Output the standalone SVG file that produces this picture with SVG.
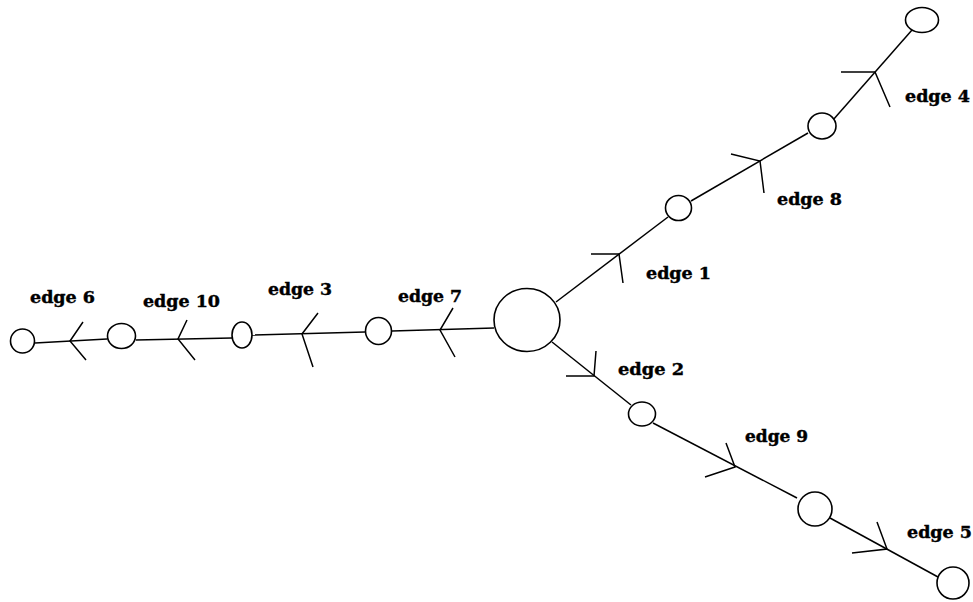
<svg xmlns="http://www.w3.org/2000/svg" width="973" height="602" viewBox="0 0 973 602">
<style>
.n{fill:#fff;stroke:#000;stroke-width:1.6}
.e{fill:none;stroke:#000;stroke-width:1.5}
.l{font-family:"DejaVu Serif","Liberation Serif",serif;font-weight:bold;font-size:16px;fill:#000;stroke:#000;stroke-width:0.4}
</style>
<rect width="973" height="602" fill="#fff"/>
<g id="connectors">
<g id="e7"><line class="e" x1="494" y1="328" x2="392" y2="331"/><polyline class="e" points="453,308 440,330 455,357"/></g>
<g id="e3"><line class="e" x1="365" y1="332" x2="252" y2="335"/><polyline class="e" points="318,313 302,334 313,367"/></g>
<g id="e10"><line class="e" x1="232" y1="338" x2="136" y2="340"/><polyline class="e" points="187,320 178,339 195,360"/></g>
<g id="e6"><line class="e" x1="107" y1="339" x2="35" y2="343"/><polyline class="e" points="83,322 70,341 86,360"/></g>
<g id="e1"><line class="e" x1="556" y1="302" x2="668" y2="217"/><polyline class="e" points="591,254 619,254 623,283"/></g>
<g id="e8"><line class="e" x1="691" y1="201" x2="808" y2="133"/><polyline class="e" points="731,154 760,161 764,193"/></g>
<g id="e4"><line class="e" x1="833" y1="120" x2="912" y2="30"/><polyline class="e" points="841,72 875,72 890,107"/></g>
<g id="e2"><line class="e" x1="552" y1="342" x2="631" y2="405"/><polyline class="e" points="566,376 594,376 596,351"/></g>
<g id="e9"><line class="e" x1="653" y1="423" x2="797" y2="498"/><polyline class="e" points="726,443 735,467 705,477"/></g>
<g id="e5"><line class="e" x1="830" y1="518" x2="938" y2="577"/><polyline class="e" points="877,522 887,549 852,553"/></g>
</g>
<g id="n0"><ellipse class="n" cx="527" cy="320" rx="33" ry="31.5"/></g>
<g id="nA"><ellipse class="n" cx="678.5" cy="208" rx="13" ry="12.5"/></g>
<g id="nB"><ellipse class="n" cx="822" cy="126" rx="14" ry="13"/></g>
<g id="nC"><ellipse class="n" cx="922" cy="20" rx="16.5" ry="12.5"/></g>
<g id="nD"><ellipse class="n" cx="642" cy="414" rx="13.5" ry="12"/></g>
<g id="nE"><ellipse class="n" cx="815" cy="509" rx="17" ry="17"/></g>
<g id="nF"><ellipse class="n" cx="953" cy="583" rx="16" ry="16"/></g>
<g id="nG"><ellipse class="n" cx="378.5" cy="331" rx="13" ry="13.5"/></g>
<g id="nH"><ellipse class="n" cx="242" cy="335" rx="10" ry="13"/></g>
<g id="nI"><ellipse class="n" cx="121.5" cy="336" rx="14" ry="12.5"/></g>
<g id="nJ"><ellipse class="n" cx="22.5" cy="341" rx="12" ry="12"/></g>
<g id="labels">
<text class="l" x="30" y="303" textLength="65" lengthAdjust="spacingAndGlyphs">edge 6</text>
<text class="l" x="143" y="307" textLength="77" lengthAdjust="spacingAndGlyphs">edge 10</text>
<text class="l" x="268" y="295" textLength="64" lengthAdjust="spacingAndGlyphs">edge 3</text>
<text class="l" x="398" y="302" textLength="64" lengthAdjust="spacingAndGlyphs">edge 7</text>
<text class="l" x="646" y="279" textLength="65" lengthAdjust="spacingAndGlyphs">edge 1</text>
<text class="l" x="777" y="205" textLength="65" lengthAdjust="spacingAndGlyphs">edge 8</text>
<text class="l" x="905" y="102" textLength="65" lengthAdjust="spacingAndGlyphs">edge 4</text>
<text class="l" x="618" y="375" textLength="66" lengthAdjust="spacingAndGlyphs">edge 2</text>
<text class="l" x="745" y="442" textLength="63" lengthAdjust="spacingAndGlyphs">edge 9</text>
<text class="l" x="907" y="538" textLength="65" lengthAdjust="spacingAndGlyphs">edge 5</text>
</g>
</svg>
